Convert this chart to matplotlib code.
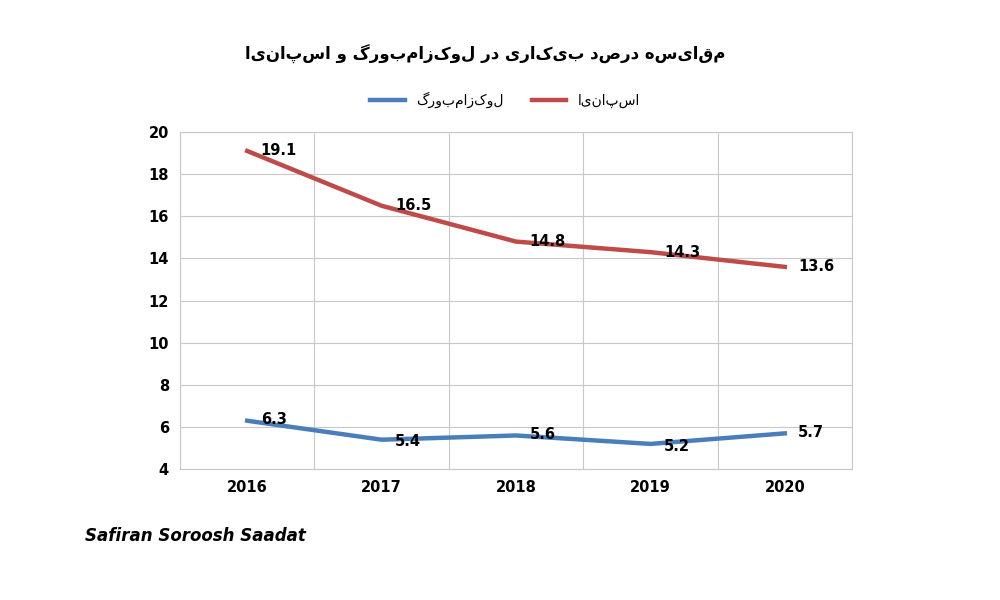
import matplotlib
matplotlib.use("Agg")
import matplotlib.pyplot as plt

def fa(s):
    try:
        import arabic_reshaper
        from bidi.algorithm import get_display
        return get_display(arabic_reshaper.reshape(s))
    except Exception:
        return s[::-1]

years = ["2016", "2017", "2018", "2019", "2020"]
luxembourg = [6.3, 5.4, 5.6, 5.2, 5.7]
spain = [19.1, 16.5, 14.8, 14.3, 13.6]
title = "مقایسه درصد بیکاری در لوکزامبورگ و اسپانیا"
name_lux = "لوکزامبورگ"
name_esp = "اسپانیا"

fig = plt.figure(figsize=(10, 6), dpi=100)
ax = fig.add_axes([0.18, 0.218, 0.672, 0.562])
x = list(range(len(years)))
ax.plot(x, luxembourg, color="#4a7ebb", lw=3.2, label=fa(name_lux))
ax.plot(x, spain, color="#be4b48", lw=3.2, label=fa(name_esp))
for xi, v in zip(x, luxembourg):
    ax.text(xi + 0.1, v - 0.1 if xi in (1, 3) else v + 0.05, f"{v}", fontsize=10.5, fontweight="bold", va="center", ha="left")
for xi, v in zip(x, spain):
    ax.text(xi + 0.1, v, f"{v}", fontsize=10.5, fontweight="bold", va="center", ha="left")
ax.set_xlim(-0.5, 4.5)
ax.set_ylim(4, 20)
ax.set_yticks(range(4, 21, 2))
ax.set_xticks(x)
ax.set_xticklabels(years, fontweight="bold", fontsize=10.5)
for lbl in ax.get_yticklabels():
    lbl.set_fontweight("bold"); lbl.set_fontsize(10.5)
ax.set_xticks([i + 0.5 for i in range(-1, 5)], minor=True)
ax.grid(True, which="major", axis="y", color="#c8c8c8", lw=0.8)
ax.grid(True, which="minor", axis="x", color="#c8c8c8", lw=0.8)
ax.tick_params(which="both", length=0, pad=8)
for s in ax.spines.values():
    s.set_color("#c8c8c8")
ax.set_axisbelow(True)
fig.text(0.485, 0.91, fa(title), ha="center", va="center", fontsize=12, fontweight="bold", family="DejaVu Sans")
h, l = ax.get_legend_handles_labels()
fig.legend(h[::-1][::-1], l, loc="center", bbox_to_anchor=(0.505, 0.833), ncol=2, frameon=False, fontsize=10, handlelength=2.5)
fig.text(0.085, 0.098, "Safiran Soroosh Saadat", fontsize=12, fontweight="bold", style="italic")
fig.savefig("out.png")
